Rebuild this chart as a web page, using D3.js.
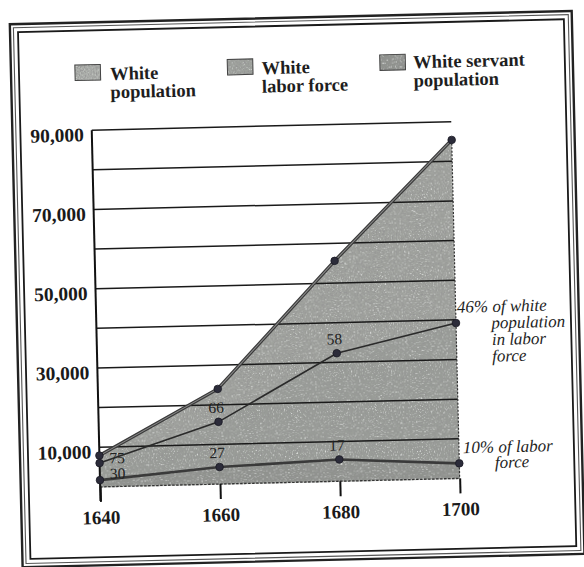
<!DOCTYPE html>
<html>
<head>
<meta charset="utf-8">
<script src="https://cdn.jsdelivr.net/npm/d3@7"></script>
<style>
  html, body { margin: 0; padding: 0; background: #ffffff; }
  svg { display: block; }
</style>
</head>
<body>
<svg id="chart" width="584" height="567"></svg>
<script>
// ---- data ----
const years = [1640, 1660, 1680, 1700];
const whitePopulation = [7900, 24000, 55600, 85400];
const whiteLaborForce = [6000, 15700, 32300, 39200];
const whiteServantPopulation = [1700, 4300, 5500, 3800];
const laborShareLabels = ["75", "66", "58"];          // % of white population in labor force
const servantShareLabels = ["30", "27", "17"];        // % of labor force that are servants
const laborEndNote = ["46% of white", "population", "in labor", "force"];
const servantEndNote = ["10% of labor", "force"];
const yLabelValues = [10000, 30000, 50000, 70000, 90000];
const gridValues = [10000, 20000, 30000, 40000, 50000, 60000, 70000, 80000, 90000];
const legendLabels = [["White", "population"], ["White", "labor force"], ["White servant", "population"]];

// ---- layout ----
const svg = d3.select("#chart");
const FONT = "'Liberation Serif', 'DejaVu Serif', serif";

const defs = svg.append("defs");
const grain = defs.append("filter").attr("id", "grain")
  .attr("x", "0").attr("y", "0").attr("width", "1").attr("height", "1");
grain.append("feTurbulence").attr("type", "fractalNoise").attr("baseFrequency", "0.75")
  .attr("numOctaves", "2").attr("seed", "4").attr("result", "n");
grain.append("feColorMatrix").attr("in", "n").attr("type", "matrix")
  .attr("values", "0 0 0 0 0.3  0 0 0 0 0.3  0 0 0 0 0.3  3.4 0 0 0 -1.5").attr("result", "dark");
grain.append("feColorMatrix").attr("in", "n").attr("type", "matrix")
  .attr("values", "0 0 0 0 0.8  0 0 0 0 0.82  0 0 0 0 0.8  0 -3.4 0 0 1.45").attr("result", "light");
grain.append("feComposite").attr("in", "dark").attr("in2", "SourceGraphic").attr("operator", "in").attr("result", "dk");
grain.append("feComposite").attr("in", "light").attr("in2", "SourceGraphic").attr("operator", "in").attr("result", "lt");
const merge = grain.append("feMerge");
merge.append("feMergeNode").attr("in", "SourceGraphic");
merge.append("feMergeNode").attr("in", "lt");
merge.append("feMergeNode").attr("in", "dk");

// whole scanned page is slightly tilted
const page = svg.append("g").attr("transform", "rotate(-1.35, 292, 283)");

// frame
page.append("rect").attr("x", 16).attr("y", 17.7).attr("width", 562).attr("height", 543)
  .attr("fill", "none").attr("stroke", "#222").attr("stroke-width", 2.4);
page.append("rect").attr("x", 19.5).attr("y", 21.2).attr("width", 555).attr("height", 536)
  .attr("fill", "none").attr("stroke", "#555").attr("stroke-width", 1.1);
page.append("rect").attr("x", 24).attr("y", 25.7).attr("width", 546).attr("height", 527)
  .attr("fill", "none").attr("stroke", "#1a1a1a").attr("stroke-width", 1.8);

const x = d3.scaleLinear().domain([1640, 1700]).range([95.4, 455]);
const y = d3.scaleLinear().domain([0, 90000]).range([482.3, 125.5]);

const popData = years.map((yr, i) => ({ year: yr, v: whitePopulation[i] }));
const laborData = years.map((yr, i) => ({ year: yr, v: whiteLaborForce[i] }));
const servData = years.map((yr, i) => ({ year: yr, v: whiteServantPopulation[i] }));

const area = d3.area().x(d => x(d.year)).y0(y(0)).y1(d => y(d.v));
const line = d3.line().x(d => x(d.year)).y(d => y(d.v));

const plot = page.append("g");
plot.append("path").datum(popData).attr("d", area).attr("fill", "#a0a39e").attr("filter", "url(#grain)");
plot.append("path").datum(laborData).attr("d", area).attr("fill", "#9a9d98").attr("filter", "url(#grain)");
plot.append("path").datum(servData).attr("d", area).attr("fill", "#8f928d").attr("filter", "url(#grain)");

// gridlines
plot.append("g").selectAll("line").data(gridValues).join("line")
  .attr("x1", x(1640)).attr("x2", x(1700))
  .attr("y1", d => y(d)).attr("y2", d => y(d))
  .attr("stroke", "#1a1a1a").attr("stroke-width", 1.5);

// dashed right edge and base of the filled area
plot.append("line").attr("x1", x(1700)).attr("x2", x(1700))
  .attr("y1", y(whitePopulation[3])).attr("y2", y(0))
  .attr("stroke", "#333").attr("stroke-width", 1.2).attr("stroke-dasharray", "2,1.6");
plot.append("line").attr("x1", x(1640)).attr("x2", x(1700))
  .attr("y1", y(0)).attr("y2", y(0))
  .attr("stroke", "#333").attr("stroke-width", 1.3).attr("stroke-dasharray", "2.5,1.5");

// y axis line
plot.append("line").attr("x1", x(1640)).attr("x2", x(1640))
  .attr("y1", y(90000)).attr("y2", y(0) + 14)
  .attr("stroke", "#111").attr("stroke-width", 2);

// y labels via axis
const yAxis = d3.axisLeft(y).tickValues(yLabelValues).tickSize(0).tickPadding(8)
  .tickFormat(d3.format(","));
const yg = plot.append("g").attr("transform", `translate(${x(1640)},0)`).call(yAxis);
yg.select(".domain").remove();
yg.selectAll("text").attr("dy", "0.54em").attr("font-family", FONT).attr("font-size", 19.5)
  .attr("font-weight", "bold").attr("fill", "#1a1a1a");

// x axis
const xAxis = d3.axisBottom(x).tickValues(years).tickSize(15).tickPadding(8.7)
  .tickFormat(d3.format("d"));
const xg = plot.append("g").attr("transform", `translate(0,${y(0)})`).call(xAxis);
xg.select(".domain").remove();
xg.selectAll(".tick line").attr("stroke", "#111").attr("stroke-width", 2);
xg.selectAll("text").attr("font-family", FONT).attr("font-size", 19)
  .attr("font-weight", "bold").attr("fill", "#1a1a1a");

// lines
plot.append("path").datum(popData).attr("d", line).attr("fill", "none")
  .attr("stroke", "#3a3a3a").attr("stroke-width", 3.4);
plot.append("path").datum(popData).attr("d", line).attr("fill", "none")
  .attr("stroke", "#8a8a8a").attr("stroke-width", 1);
plot.append("path").datum(laborData).attr("d", line).attr("fill", "none")
  .attr("stroke", "#2a2a2a").attr("stroke-width", 1.6);
plot.append("path").datum(servData).attr("d", line).attr("fill", "none")
  .attr("stroke", "#3a3a3a").attr("stroke-width", 2.6);

// points
[popData, laborData, servData].forEach(ser => {
  plot.append("g").selectAll("circle").data(ser).join("circle")
    .attr("cx", d => x(d.year)).attr("cy", d => y(d.v)).attr("r", 3.8)
    .attr("fill", "#2c2c3a").attr("stroke", "#1a1a24").attr("stroke-width", 0.8);
});

// percentage labels
const lblFont = sel => sel.attr("font-family", FONT).attr("font-size", 15.5).attr("fill", "#222");
plot.append("g").selectAll("text").data(laborShareLabels).join("text")
  .attr("x", (d, i) => i === 0 ? x(years[i]) + 10 : x(years[i]) - 2)
  .attr("y", (d, i) => i === 0 ? y(whiteLaborForce[i]) + 0.5 : y(whiteLaborForce[i]) - 9)
  .attr("text-anchor", (d, i) => i === 0 ? "start" : "middle")
  .text(d => d).call(lblFont);
plot.append("g").selectAll("text").data(servantShareLabels).join("text")
  .attr("x", (d, i) => i === 0 ? x(years[i]) + 10 : x(years[i]) - 2)
  .attr("y", (d, i) => i === 0 ? y(whiteServantPopulation[i]) - 1 : y(whiteServantPopulation[i]) - 9)
  .attr("text-anchor", (d, i) => i === 0 ? "start" : "middle")
  .text(d => d).call(lblFont);

// end notes
const noteFont = sel => sel.attr("font-family", FONT).attr("font-size", 17)
  .attr("font-style", "italic").attr("fill", "#1e1e1e");
const n1 = plot.append("text").attr("y", y(whiteLaborForce[3]) - 10.3).call(noteFont);
laborEndNote.forEach((t, i) => {
  n1.append("tspan").attr("x", i === 0 ? x(1700) + 1.3 : x(1700) + 35.4)
    .attr("dy", i === 0 ? 0 : 16.6).text(t);
});
const n2 = plot.append("text").attr("y", y(whiteServantPopulation[3]) - 10).call(noteFont);
servantEndNote.forEach((t, i) => {
  n2.append("tspan").attr("x", i === 0 ? x(1700) + 4 : x(1700) + 35.6)
    .attr("dy", i === 0 ? 0 : 15.5).text(t);
});

// legend
const legendPos = [
  { sx: 80, sy: 60, tx: 115, ty: 75.7 },
  { sx: 232.5, sy: 58, tx: 266.6, ty: 73.6 },
  { sx: 385, sy: 57, tx: 418.4, ty: 71.2 }
];
const legendFills = ["#acafaa", "#9fa29d", "#8e918c"];
const lg = page.append("g");
legendLabels.forEach((lab, i) => {
  const p = legendPos[i];
  lg.append("rect").attr("x", p.sx).attr("y", p.sy).attr("width", 25.5).attr("height", 15.5)
    .attr("fill", legendFills[i]).attr("filter", "url(#grain)");
  lg.append("rect").attr("x", p.sx).attr("y", p.sy).attr("width", 25.5).attr("height", 15.5)
    .attr("fill", "none").attr("stroke", "#444").attr("stroke-width", 1);
  const t = lg.append("text").attr("y", p.ty).attr("font-family", FONT).attr("font-size", 18.5)
    .attr("font-weight", "bold").attr("fill", "#1e1e1e");
  lab.forEach((s, j) => {
    t.append("tspan").attr("x", p.tx).attr("dy", j === 0 ? 0 : 18.4).text(s);
  });
});
</script>
</body>
</html>
